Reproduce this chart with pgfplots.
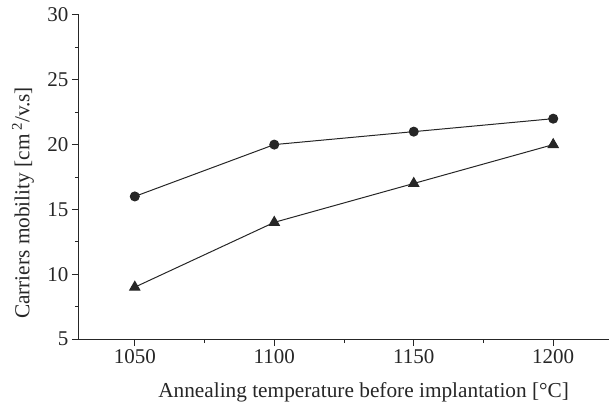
\documentclass[border=0pt]{standalone}
\usepackage{fontspec}
\setmainfont{Liberation Serif}
\usepackage{pgfplots}
\pgfplotsset{compat=1.18}
\begin{document}
\begin{tikzpicture}
\begin{axis}[
  scale only axis,
  width=530pt, height=324pt,
  xmin=1030, xmax=1220,
  ymin=5, ymax=30,
  axis x line*=bottom,
  axis y line*=left,
  axis line style={line width=1pt, black!85},
  xtick={1050,1100,1150,1200},
  ytick={5,10,15,20,25,30},
  minor x tick num=1,
  minor y tick num=1,
  tick align=outside,
  major tick length=7pt,
  minor tick length=4pt,
  tick style={line width=1pt, black!85},
  /pgf/number format/assume math mode=true,
  /pgf/number format/1000 sep={},
  ticklabel style={font=\fontsize{21}{23}\selectfont, text=black!85},
  label style={font=\fontsize{21.3}{23}\selectfont, text=black!85},
  xlabel={Annealing temperature before implantation [°C]},
  ylabel={Carriers mobility [cm\,\textsuperscript{2}/v.s]},
  xlabel style={at={(axis description cs:0.537,-0.1636)}, anchor=center},
  ylabel style={at={(axis description cs:-0.1057,0.42)}, anchor=center, rotate=0},
]
\addplot[black!85, line width=1pt, mark=*, mark size=4.5pt] coordinates {
  (1050,16) (1100,20) (1150,21) (1200,22)
};
\addplot[black!85, line width=1pt, mark=triangle*, mark size=5.8pt] coordinates {
  (1050,9) (1100,14) (1150,17) (1200,20)
};
\end{axis}
\pgfresetboundingbox
\path[use as bounding box] ([xshift=-79pt,yshift=-68pt]current axis.south west) rectangle ([xshift=6pt,yshift=15pt]current axis.north east);
\end{tikzpicture}
\end{document}
